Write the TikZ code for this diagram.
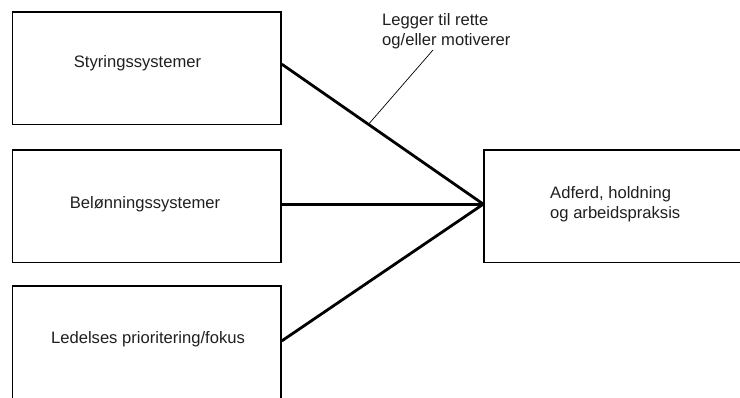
\documentclass[tikz,border=0pt]{standalone}
\usepackage{fontspec}
\setmainfont{Liberation Sans}
\usetikzlibrary{calc}
\begin{document}
\begin{tikzpicture}[x=1pt,y=-1pt,
  box/.style={draw=black, line width=1.8pt, inner sep=0pt, anchor=north west,
    minimum width=268.5pt, minimum height=112.5pt},
  txt/.style={inner sep=0pt, text=black!88,
    font={\fontsize{16.6}{20.4}\selectfont}},
  link/.style={line width=2.8pt, black},
  leader/.style={line width=0.7pt, black}]
  \useasboundingbox (0,0) rectangle (740,397);
  \clip (0,0) rectangle (740,397);

  % boxes on the left, outcome box on the right (runs off the edge)
  \node[box] (b1) at (11.5,11) {};
  \node[box] (b2) at (11.5,149) {};
  \node[box, minimum height=116pt] (b3) at (11.5,285) {};
  \node[box, minimum width=300pt] (out) at (483.3,149) {};

  % box texts
  \node[txt, anchor=base] (t1) at (137.5,67) {Styringssystemer};
  \node[txt, anchor=base] (t2) at (145,208) {Belønningssystemer};
  \node[txt, anchor=base] (t3) at (148,343) {Ledelses prioritering/fokus};
  \node[txt, anchor=north west, align=left] (t4) at (550,186.2)
    {Adferd, holdning\\og arbeidspraksis};

  % annotation
  \node[txt, anchor=north west, align=left] (lbl) at (382,13.1)
    {Legger til rette\\og/eller motiverer};

  % connectors converging on the outcome box
  \coordinate (join) at ([yshift=2pt]out.west);
  \coordinate (s1) at ([yshift=4pt]b1.east);
  \coordinate (s2) at ([yshift=2pt]b2.east);
  \coordinate (s3) at ([yshift=3pt]b3.east);
  \draw[link] (s1) -- (join);
  \draw[link] (s2) -- (join);
  \draw[link] (s3) -- (join);

  % leader from the annotation to the upper connector
  \coordinate (ltop) at (433,50);
  \coordinate (foot) at ($(s1)!0.43!(join)$);
  \draw[leader] (ltop) -- (foot);
\end{tikzpicture}
\end{document}
